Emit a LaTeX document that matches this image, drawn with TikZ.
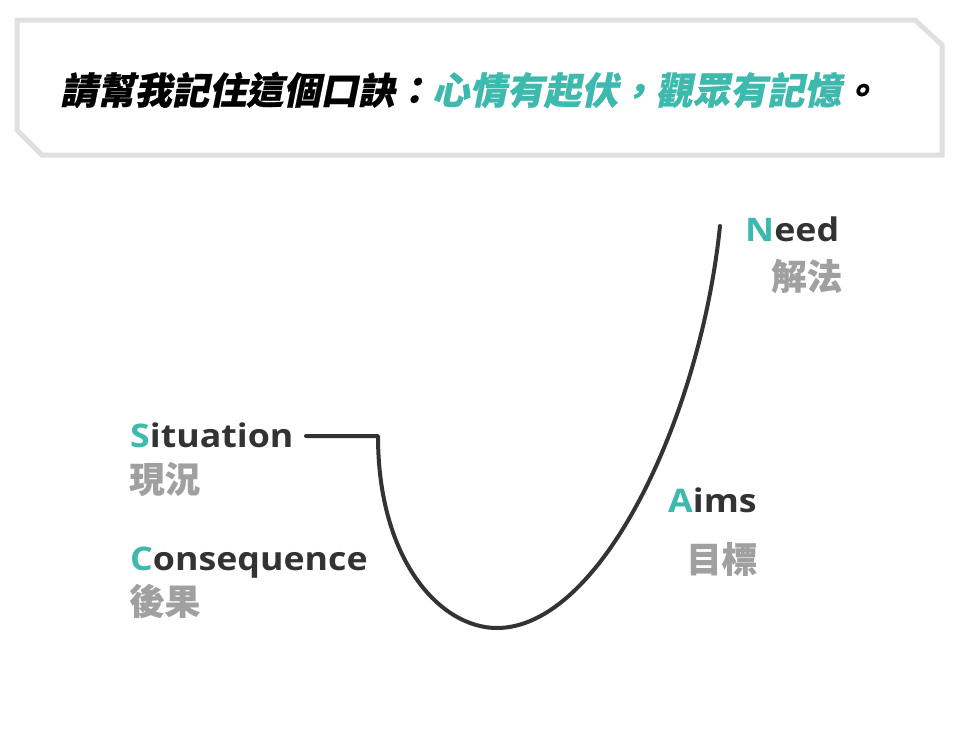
\documentclass[tikz,border=0pt]{standalone}
\usepackage{fontspec}
\setmainfont{Open Sans}
\newfontfamily\enfont[FakeStretch=1.1]{Open Sans}
\newfontfamily\cjktitle[FakeSlant=0.2,FakeBold=0.6]{Noto Sans CJK TC}
\newfontfamily\cjk[FakeBold=0.3]{Noto Sans CJK TC}
\definecolor{teal1}{HTML}{3DB9AD}
\definecolor{dark1}{HTML}{333333}
\definecolor{gray1}{HTML}{A0A0A0}
\definecolor{frame1}{HTML}{E0E0E0}
\tikzset{
  enlabel/.style={anchor=base west, inner sep=0pt, font=\fontsize{32.5}{32.5}\selectfont\enfont\bfseries, text=dark1},
  zhlabel/.style={anchor=west, inner sep=0pt, font=\fontsize{35.5}{35.5}\selectfont\cjk\bfseries, text=gray1},
  curveline/.style={draw=dark1, line width=4pt, line cap=round, line join=round},
}
\begin{document}
\begin{tikzpicture}[x=1pt,y=-1pt]
\useasboundingbox (0,0) rectangle (961,744);
\fill[white] (0,0) rectangle (961,744);
% title frame
\draw[frame1, line width=5pt, line join=miter]
  (17,20) -- (915,20) -- (942,45) -- (942,155) -- (42,155) -- (17,130) -- cycle;
\node[anchor=west, inner sep=0pt, font=\fontsize{37.2}{37.2}\selectfont\cjktitle\bfseries]
  (title) at (60,90) {\textcolor{black}{請幫我記住這個口訣：}\textcolor{teal1}{心情有起伏，觀眾有記憶}\textcolor{black}{。}};
% labels
\node[enlabel] (sit) at (130,447) {\textcolor{teal1}{S}ituation};
\node[zhlabel] (sitzh) at (129,479) {現況};
\node[enlabel] (con) at (130,570) {\textcolor{teal1}{C}onsequence};
\node[zhlabel] (conzh) at (129,601) {後果};
\node[enlabel] (aims) at (668,512) {\textcolor{teal1}{A}ims};
\node[zhlabel] (aimszh) at (686,559) {目標};
\node[enlabel] (need) at (745,241) {\textcolor{teal1}{N}eed};
\node[zhlabel] (needzh) at (771,276) {解法};
% curve
\coordinate (s0) at (306,436);
\coordinate (s1) at (378,436);
\coordinate (bot) at (497,628);
\coordinate (top) at (720,226);
\draw[curveline] (s0) -- (s1) .. controls (378,560) and (440,628) .. (bot)
  .. controls (600,628) and (700,420) .. (top);
\end{tikzpicture}
\end{document}
